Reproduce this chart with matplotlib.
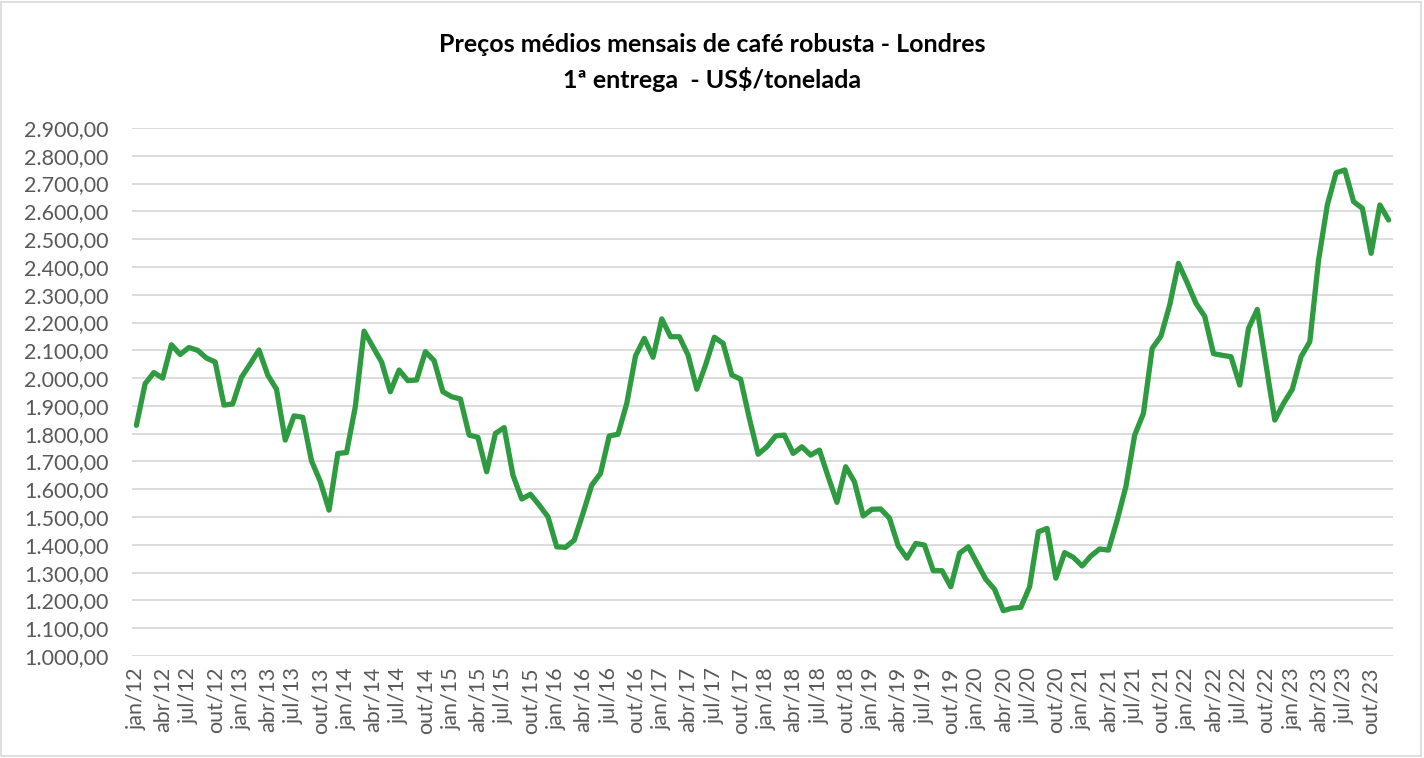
import matplotlib.pyplot as plt
from matplotlib.ticker import FuncFormatter
from matplotlib.patches import Rectangle

# monthly averages, jan/12 .. dez/23 (US$/tonelada)
months = ['jan', 'fev', 'mar', 'abr', 'mai', 'jun', 'jul', 'ago', 'set', 'out', 'nov', 'dez']
years = list(range(12, 24))

p2012 = [1830, 1980, 2020, 2000, 2120, 2085, 2110, 2100, 2072, 2058, 1903, 1907]
p2013 = [2003, 2051, 2101, 2011, 1960, 1777, 1864, 1859, 1702, 1628, 1525, 1729]
p2014 = [1732, 1897, 2169, 2113, 2058, 1951, 2029, 1991, 1993, 2095, 2063, 1951]
p2015 = [1933, 1925, 1795, 1787, 1663, 1801, 1822, 1651, 1565, 1582, 1543, 1501]
p2016 = [1393, 1391, 1417, 1513, 1615, 1657, 1792, 1798, 1909, 2080, 2143, 2075]
p2017 = [2213, 2149, 2149, 2083, 1960, 2047, 2147, 2125, 2011, 1996, 1855, 1726]
p2018 = [1753, 1792, 1795, 1729, 1753, 1723, 1741, 1645, 1553, 1681, 1627, 1504]
p2019 = [1528, 1529, 1496, 1396, 1352, 1405, 1399, 1307, 1307, 1249, 1370, 1393]
p2020 = [1334, 1276, 1240, 1163, 1172, 1175, 1249, 1447, 1459, 1280, 1372, 1355]
p2021 = [1324, 1360, 1385, 1381, 1489, 1610, 1795, 1873, 2107, 2151, 2263, 2413]
p2022 = [2343, 2269, 2222, 2088, 2082, 2077, 1975, 2179, 2247, 2047, 1849, 1909]
p2023 = [1960, 2077, 2131, 2425, 2623, 2739, 2749, 2635, 2611, 2449, 2623, 2569]

prices = (p2012 + p2013 + p2014 + p2015 + p2016 + p2017 +
          p2018 + p2019 + p2020 + p2021 + p2022 + p2023)
labels = ['{}/{}'.format(m, y) for y in years for m in months]

plt.rcParams['font.family'] = ['Lato', 'DejaVu Sans']

fig = plt.figure(figsize=(14.24, 7.58), dpi=100)
ax = fig.add_axes([132 / 1424, 1 - 656 / 758, (1393 - 132) / 1424, (656 - 128) / 758])

x = list(range(len(prices)))
ax.plot(x, prices, color='#2e9b40', lw=3.8, solid_joinstyle='round', solid_capstyle='round', zorder=3)

ax.set_xlim(-0.5, len(prices) - 0.5)
ax.set_ylim(1000, 2900)
ax.set_yticks(range(1000, 3000, 100))
ax.yaxis.set_major_formatter(FuncFormatter(
    lambda v, p: '{:,.2f}'.format(v).replace(',', 'X').replace('.', ',').replace('X', '.')))
ax.set_xticks(x[::3])
ax.set_xticklabels(labels[::3], rotation=90)

ax.grid(axis='y', color='#d9d9d9', lw=1.3, zorder=0)
for s in ax.spines.values():
    s.set_visible(False)
ax.tick_params(length=0, labelsize=15.5, labelcolor='#595959')
ax.tick_params(axis='y', pad=17)
ax.tick_params(axis='x', pad=8)

fig.text(0.5, 1 - 45 / 758, 'Preços médios mensais de café robusta - Londres',
         ha='center', va='center', fontsize=18, fontweight='bold')
fig.text(0.5, 1 - 80 / 758, '1ª entrega  - US$/tonelada',
         ha='center', va='center', fontsize=18, fontweight='bold')

# chart border
fig.patches.append(Rectangle((0.001, 0.002), 0.997, 0.996, transform=fig.transFigure,
                             fill=False, edgecolor='#d9d9d9', lw=1.2))

fig.savefig('out.png', dpi=100)
